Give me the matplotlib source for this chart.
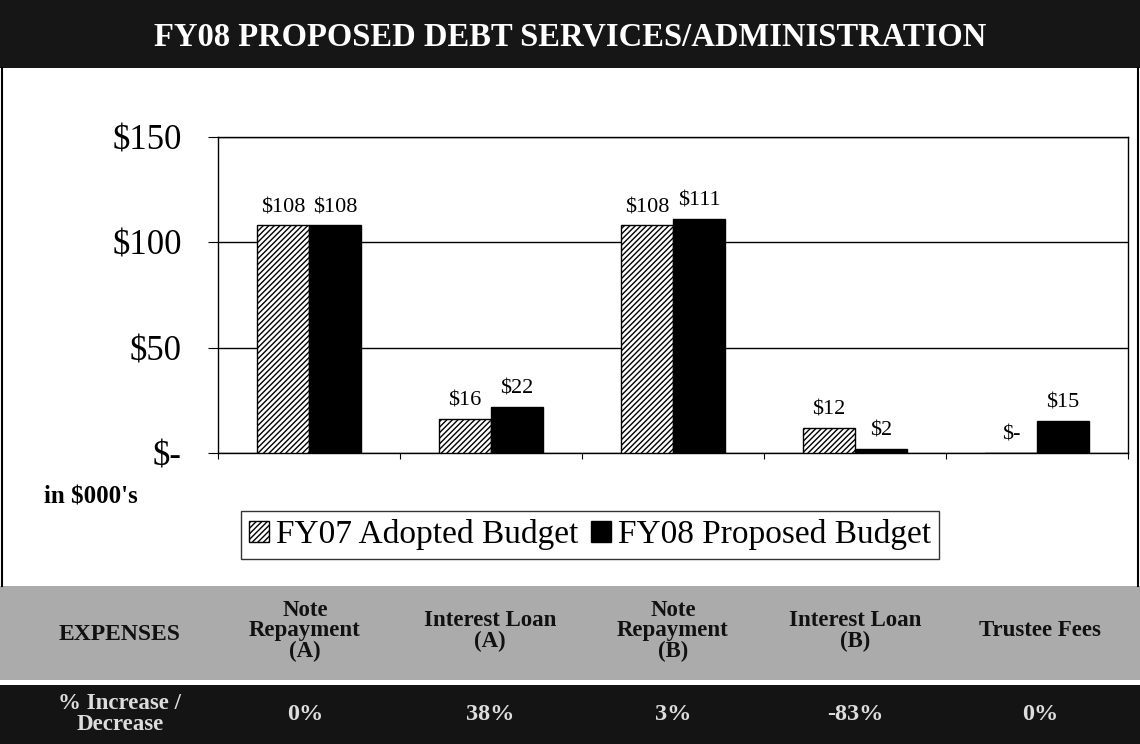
import numpy as np
from matplotlib import pyplot as plt
from matplotlib.patches import Rectangle

plt.rcParams['font.family'] = ['Liberation Serif', 'DejaVu Serif']
plt.rcParams['hatch.linewidth'] = 1.0

categories = ["Note\nRepayment\n(A)", "Interest Loan\n(A)", "Note\nRepayment\n(B)",
              "Interest Loan\n(B)", "Trustee Fees"]
fy07 = [108, 16, 108, 12, 0]
fy08 = [108, 22, 111, 2, 15]
pct_change = ["0%", "38%", "3%", "-83%", "0%"]
yticks = [0, 50, 100, 150]
ytick_labels = ["$-", "$50", "$100", "$150"]

fig = plt.figure(figsize=(11.4, 7.44), dpi=100)
W, H = 1140, 744

def fx(px):
    return px / W

def fy(py):
    return 1 - py / H

# title bar
fig.patches.append(Rectangle((0, fy(68)), 1, 68 / H, transform=fig.transFigure,
                             facecolor='#161616', edgecolor='none', zorder=0))
fig.text(0.5, fy(37), "FY08 PROPOSED DEBT SERVICES/ADMINISTRATION", ha='center',
         va='center', color='white', fontsize=23.5, fontweight='bold')

# outer frame of chart area
fig.add_artist(plt.Line2D([fx(2), fx(2)], [fy(68), fy(586)], color='black', lw=1.5,
                          transform=fig.transFigure))
fig.add_artist(plt.Line2D([fx(1138), fx(1138)], [fy(68), fy(586)], color='black', lw=1.5,
                          transform=fig.transFigure))

# header band
fig.patches.append(Rectangle((0, fy(680)), 1, (680 - 586) / H, transform=fig.transFigure,
                             facecolor='#ababab', edgecolor='none', zorder=0))
# bottom band
fig.patches.append(Rectangle((0, 0), 1, (744 - 685) / H, transform=fig.transFigure,
                             facecolor='#141414', edgecolor='none', zorder=0))

col_x = [305, 490, 673, 855, 1040]
fig.text(fx(120), fy(634), "EXPENSES", ha='center', va='center', fontsize=17,
         fontweight='bold', color='#111111')
for x, lab in zip(col_x, categories):
    fig.text(fx(x), fy(631), lab, ha='center', va='center', fontsize=16.5,
             fontweight='bold', color='#111111', linespacing=0.97)

fig.text(fx(120), fy(714), "% Increase /\nDecrease", ha='center', va='center',
         fontsize=16.5, fontweight='bold', color='#dddddd', linespacing=0.97)
for x, p in zip(col_x, pct_change):
    fig.text(fx(x), fy(714), p, ha='center', va='center', fontsize=17.5,
             fontweight='bold', color='#dddddd')

# bar chart
ax = fig.add_axes([fx(218), fy(453), (1128 - 218) / W, (453 - 137) / H])
x = np.arange(len(categories))
w = 0.285
b1 = ax.bar(x - w / 2, fy07, w, facecolor='white', edgecolor='black', hatch='//////',
            linewidth=1.0, label='FY07 Adopted Budget', zorder=3)
b2 = ax.bar(x + w / 2, fy08, w, facecolor='black', edgecolor='black', linewidth=1.0,
            label='FY08 Proposed Budget', zorder=3)

for bars, vals in [(b1, fy07), (b2, fy08)]:
    for r, v in zip(bars, vals):
        lab = "$-" if v == 0 else "$%d" % v
        ax.text(r.get_x() + r.get_width() / 2, v + 4, lab, ha='center', va='bottom',
                fontsize=16)

ax.set_xlim(-0.5, len(categories) - 0.5)
ax.set_ylim(0, 150)
ax.set_yticks(yticks)
ax.set_yticklabels(ytick_labels, fontsize=25)
ax.set_xticks(np.arange(len(categories) + 1) - 0.5)
ax.set_xticklabels([])
ax.tick_params(axis='x', length=4.5, direction='out')
ax.tick_params(axis='y', length=7, direction='out', pad=19)
ax.yaxis.grid(True, color='black', linewidth=1.0)
ax.set_axisbelow(True)
for s in ax.spines.values():
    s.set_color('black')
    s.set_linewidth(1.0)

fig.text(fx(44), fy(497), "in $000's", ha='left', va='center', fontsize=18,
         fontweight='bold')

leg = fig.legend(handles=[b1, b2], loc='center', bbox_to_anchor=(fx(590), fy(535)),
                 ncol=2, fontsize=24, frameon=True, fancybox=False, edgecolor='black',
                 handlelength=0.6, handleheight=0.6, handletextpad=0.2, columnspacing=0.4,
                 borderpad=0.25, borderaxespad=0)
leg.get_frame().set_linewidth(1.0)

plt.savefig('out.png', dpi=100)
